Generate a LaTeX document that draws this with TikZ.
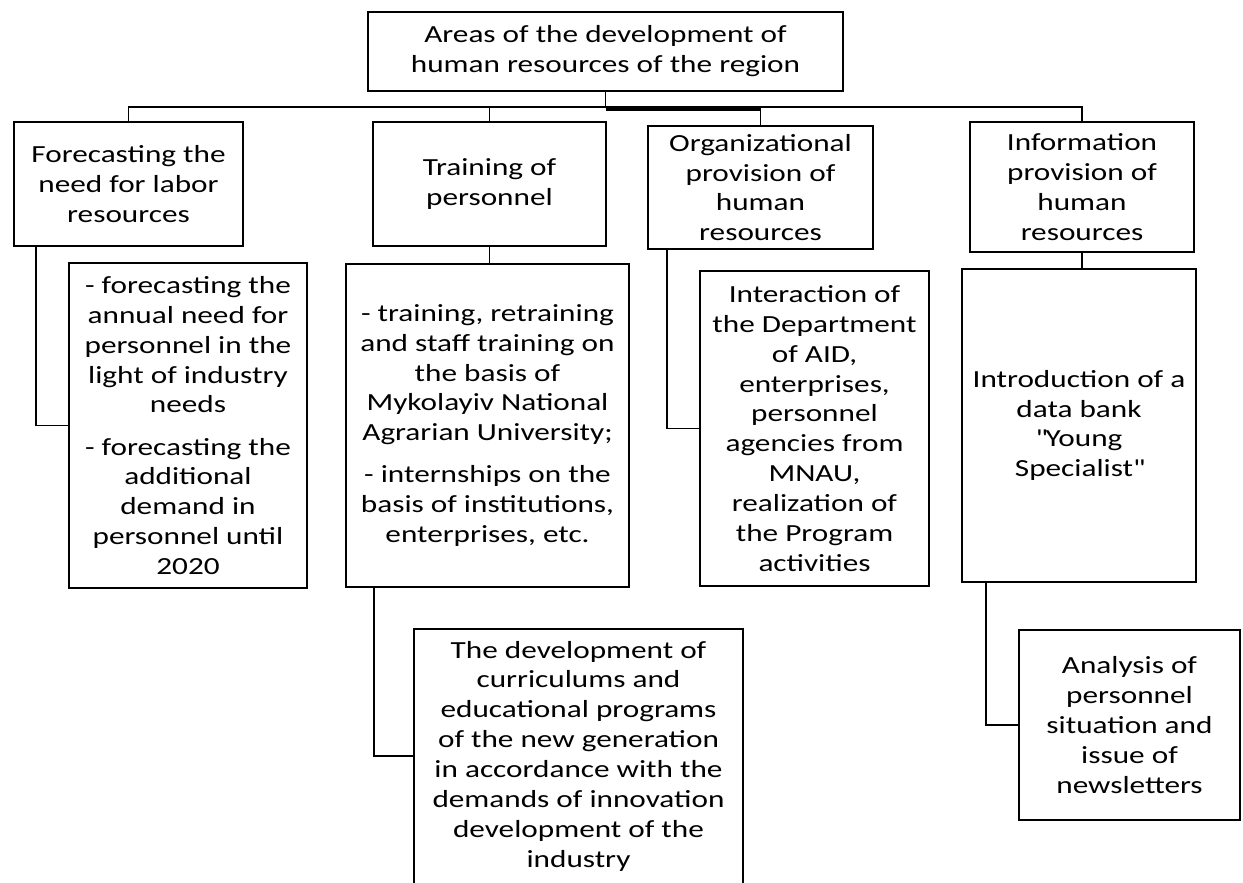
\documentclass[tikz,border=0pt]{standalone}
\usepackage{fontspec}
\setmainfont{Carlito}[FakeStretch=1.27]
\usepackage{tikz}
\usetikzlibrary{calc, positioning}

\begin{document}
\begin{tikzpicture}[x=0.02cm, y=-0.02cm,
    box/.style={draw, line width=1.1pt, align=center, inner sep=0pt,
                font=\fontsize{14}{17}\selectfont},
    link/.style={line width=1.1pt}]
    \useasboundingbox (0,0) rectangle (1243,882);

    % Nivel superior
    \node[box, minimum width=9.5cm, minimum height=1.58cm] (top) at (605.5,51.5)
        {Areas of the development of\\ human resources of the region};

    % Direcciones
    \node[box, minimum width=4.58cm, minimum height=2.48cm] (b1) at (128.5,184)
        {Forecasting the\\ need for labor\\ resources};
    \node[box, minimum width=4.66cm, minimum height=2.48cm] (b2) at (489.5,184)
        {Training of\\ personnel};
    \node[box, minimum width=4.5cm, minimum height=2.46cm] (b3) at (760.5,187.5)
        {Organizational\\ provision of\\ human\\ resources};
    \node[box, minimum width=4.48cm, minimum height=2.6cm] (b4) at (1082,187)
        {Information\\ provision of\\ human\\ resources};

    % Medidas
    \node[box, minimum width=4.76cm, minimum height=6.5cm] (c1) at (188,425.5)
        {- forecasting the\\ annual need for\\ personnel in the\\ light of industry\\ needs\\[7pt]
         - forecasting the\\ additional\\ demand in\\ personnel until\\ 2020};
    \node[box, minimum width=5.66cm, minimum height=6.46cm] (c2) at (487.5,425.5)
        {- training, retraining\\ and staff training on\\ the basis of\\ Mykolayiv National\\ Agrarian University;\\[7pt]
         - internships on the\\ basis of institutions,\\ enterprises, etc.};
    \node[box, minimum width=4.58cm, minimum height=6.3cm] (c3) at (814.5,428.5)
        {Interaction of\\ the Department\\ of AID,\\ enterprises,\\ personnel\\ agencies from\\ MNAU,\\ realization of\\ the Program\\ activities};
    \node[box, minimum width=4.68cm, minimum height=6.26cm] (c4) at (1079,425.5)
        {Introduction of a\\ data bank\\ \textquotedbl Young\\ Specialist\textquotedbl};

    \node[box, draw=none, minimum width=6.54cm, minimum height=5.04cm] (d2) at (578.5,756)
        {The development of\\ curriculums and\\ educational programs\\ of the new generation\\ in accordance with the\\ demands of innovation\\ development of the\\ industry};
    \draw[link] (d2.south west) -- (d2.north west) -- (d2.north east) -- (d2.south east);
    \node[box, minimum width=4.42cm, minimum height=3.8cm] (d4) at (1129.5,725)
        {Analysis of\\ personnel\\ situation and\\ issue of\\ newsletters};

    % Conexiones
    \coordinate (bus) at (605.5,107);
    \coordinate (bus3) at (bus -| b3.north);
    \draw[link] (top.south) -- (bus);
    \draw[link] (bus) -| (b1.north);
    \draw[link] (bus) -| (b2.north);
    \draw[link] (bus) -| (b3.north);
    \draw[link] (bus) -| (b4.north);
    \draw[line width=2.6pt] ([yshift=-0.8pt]bus) -- ([yshift=-0.8pt]bus3);

    \draw[link] ([xshift=0.46cm]b1.south west) |- (c1);
    \draw[link] (b2.south) -- (b2.south |- c2.north);
    \draw[link] ([xshift=0.58cm]c2.south west) |- (d2);
    \draw[link] ([xshift=0.4cm]b3.south west) |- (c3);
    \draw[link] (b4.south) -- (b4.south |- c4.north);
    \draw[link] ([xshift=0.5cm]c4.south west) |- (d4);
\end{tikzpicture}
\end{document}
